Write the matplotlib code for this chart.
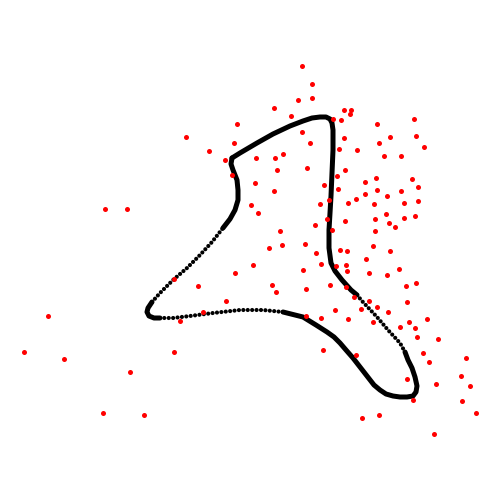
import matplotlib
matplotlib.use("Agg")
import matplotlib.pyplot as plt

# outline (picture coordinates, y grows downward)
curve_x = [232, 240, 257, 273, 290, 303, 312, 320, 326, 330, 332, 333, 333, 332, 331,
           330, 329, 329, 331, 335, 342, 351, 357, 362, 377, 388, 400, 405, 408, 412, 415,
           417, 416, 413, 407, 400, 393, 386, 380, 374, 367, 360, 353, 346, 340, 334,
           327, 316, 303, 283, 263, 240, 213, 190, 173, 160, 154, 149, 147, 148, 152,
           160, 173, 187, 200, 212, 223, 230, 235, 238, 238, 237, 233, 231, 232]
curve_y = [158, 153, 143, 134, 126, 121, 118, 117, 117, 119, 123, 130, 150, 173, 196,
           213, 230, 248, 263, 271, 280, 290, 295, 301, 317, 330, 343, 352, 360, 368, 377,
           386, 392, 396, 397, 397, 396, 394, 390, 385, 376, 367, 358, 350, 343, 337,
           332, 325, 317, 312, 310, 310, 313, 316, 318, 318, 318, 316, 312, 308, 302,
           293, 280, 268, 255, 242, 228, 219, 210, 200, 190, 180, 170, 164, 158]
# index ranges of the outline where the samples are sparse (drawn as dots)
dotted_parts = [(22, 27), (49, 55), (60, 66)]

pts_x = [302, 312, 298, 312, 274, 291, 333, 344, 351, 350, 341, 414, 377, 237,
         186, 302, 416, 390, 344, 234, 310, 379, 424, 209, 339, 357, 384, 401,
         225, 256, 275, 283, 277, 307, 345, 232, 337, 376, 412, 365, 255, 324,
         418, 338, 377, 274, 401, 365, 387, 356, 329, 418, 251, 320, 348, 374,
         404, 258, 386, 415, 404, 327, 375, 345, 389, 315, 395, 280, 332, 375,
         305, 282, 373, 269, 340, 347, 390, 316, 366, 321, 253, 336, 346, 303,
         347, 369, 235, 387, 399, 174, 198, 272, 330, 306, 346, 406, 416, 276,
         354, 226, 369, 407, 335, 361, 377, 203, 388, 306, 321, 348, 180, 373,
         409, 427, 400, 415, 417, 438, 323, 356, 423, 466, 429, 461, 407, 436,
         470, 413, 462, 476, 362, 379, 434, 105, 127, 48, 24, 64, 174, 130,
         103, 144]
pts_y = [66, 84, 100, 98, 108, 116, 119, 110, 110, 114, 120, 119, 124, 124,
         137, 132, 136, 137, 138, 143, 143, 143, 147, 151, 149, 150, 156, 156,
         160, 158, 158, 154, 170, 168, 170, 175, 176, 178, 179, 182, 183, 185,
         187, 189, 190, 191, 191, 194, 196, 199, 200, 201, 205, 204, 203, 204,
         203, 213, 214, 216, 218, 219, 219, 221, 223, 225, 227, 231, 230, 231,
         244, 245, 246, 248, 250, 251, 251, 253, 259, 264, 265, 266, 265, 270,
         271, 273, 273, 275, 269, 279, 286, 285, 285, 289, 287, 286, 283, 292,
         297, 301, 301, 302, 310, 309, 307, 312, 312, 316, 318, 319, 321, 322,
         322, 319, 327, 328, 337, 339, 350, 355, 353, 358, 362, 376, 379, 384,
         386, 400, 401, 413, 418, 415, 434, 209, 209, 316, 352, 359, 352, 372,
         413, 415]

fig = plt.figure(figsize=(5, 5), dpi=100)
ax = fig.add_axes([0, 0, 1, 1])

# solid parts of the outline
start = 0
for a, b in dotted_parts + [(len(curve_x) - 1, None)]:
    ax.plot(curve_x[start:a + 1], curve_y[start:a + 1], color='black',
            linewidth=3.6, solid_capstyle='round', solid_joinstyle='round', zorder=2)
    if b is not None:
        start = b

# sparse parts: round dots along the path
for a, b in dotted_parts:
    ax.plot(curve_x[a:b + 1], curve_y[a:b + 1], color='black', linewidth=3.0,
            linestyle=(0, (0.01, 1.05)), dash_capstyle='round', zorder=2)

ax.scatter(pts_x, pts_y, s=13, color='#ff0000', linewidths=0, zorder=3)

ax.set_xlim(0, 500)
ax.set_ylim(500, 0)
ax.axis('off')

fig.savefig('out.png', dpi=100, facecolor='white')
